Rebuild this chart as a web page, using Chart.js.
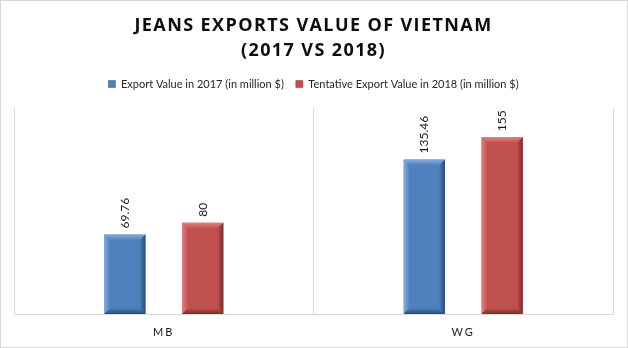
<!DOCTYPE html>
<html>
<head>
<meta charset="utf-8">
<script src="https://cdn.jsdelivr.net/npm/chart.js@4.4.1/dist/chart.umd.min.js"></script>
<style>
  html, body { margin: 0; padding: 0; background: #fff; }
  #wrap { width: 628px; height: 348px; position: relative; }
</style>
</head>
<body>
<div id="wrap"><canvas id="grafico"></canvas></div>
<script>
// ===== DADOS =====
const categorias = ['MB', 'WG'];
const exportacao2017 = [69.76, 135.46];
const exportacao2018 = [80, 155];
const rotulosSeries = ['Export Value in 2017 (in million $)', 'Tentative Export Value in 2018 (in million $)'];
const tituloLinhas = ['JEANS EXPORTS VALUE OF VIETNAM', '(2017 VS 2018)'];
const eixoY = { min: 0, max: 180 };

// cores: base, claro (bisel superior/esquerdo), escuro (bisel inferior/direito)
const CORES = [
  { base: '#4f81bd', claro: '#86abdb', escuro: '#2a4a72' },
  { base: '#c0504d', claro: '#da8582', escuro: '#7b2c2a' }
];

// envolve o desenho de um bloco para aplicar espaçamento entre letras
function comEspacamento(obj, metodo, espaco) {
  if (!obj || obj['_esp_' + metodo]) return;
  const original = obj[metodo];
  obj[metodo] = function (...args) {
    const ctx = this.ctx;
    ctx.save();
    ctx.letterSpacing = espaco;
    original.apply(this, args);
    ctx.restore();
  };
  obj['_esp_' + metodo] = true;
}

const pluginEspacamento = {
  id: 'espacamento',
  beforeLayout(chart) {
    // espaço extra abaixo da legenda (área do gráfico começa mais abaixo)
    const leg = chart.legend;
    if (leg && !leg._fitExtra) {
      const fitOriginal = leg.fit;
      leg.fit = function (...args) {
        fitOriginal.apply(this, args);
        this.height += 9;
      };
      leg._fitExtra = true;
    }
  },
  afterLayout(chart) {
    comEspacamento(chart.titleBlock, 'draw', '1.4px');
    comEspacamento(chart.scales.x, 'drawLabels', '2px');
  }
};

// bisel 3D das barras + rótulos de valor
const pluginBarras = {
  id: 'barras3d',
  afterDatasetsDraw(chart) {
    const ctx = chart.ctx;
    chart.data.datasets.forEach((ds, i) => {
      const meta = chart.getDatasetMeta(i);
      const cor = CORES[i];
      meta.data.forEach((el, j) => {
        const { x, y, base, width } = el.getProps(['x', 'y', 'base', 'width'], true);
        const l = x - width / 2, r = x + width / 2, t = y, b = base;
        const bv = Math.min(6, width / 4, (b - t) / 3);
        const faces = [
          { pts: [[l, t], [r, t], [r - bv, t + bv], [l + bv, t + bv]], g: [l, t, l, t + bv], c: cor.claro },
          { pts: [[l, t], [l + bv, t + bv], [l + bv, b - bv], [l, b]], g: [l, t, l + bv, t], c: cor.claro },
          { pts: [[r, t], [r, b], [r - bv, b - bv], [r - bv, t + bv]], g: [r, t, r - bv, t], c: cor.escuro },
          { pts: [[l, b], [r, b], [r - bv, b - bv], [l + bv, b - bv]], g: [l, b, l, b - bv], c: cor.escuro }
        ];
        faces.forEach(f => {
          const grad = ctx.createLinearGradient(...f.g);
          grad.addColorStop(0, f.c);
          grad.addColorStop(1, cor.base);
          ctx.beginPath();
          f.pts.forEach((p, k) => k ? ctx.lineTo(p[0], p[1]) : ctx.moveTo(p[0], p[1]));
          ctx.closePath();
          ctx.fillStyle = grad;
          ctx.fill();
        });
        // rótulo do valor, girado
        ctx.save();
        ctx.translate(x, t - 6);
        ctx.rotate(-Math.PI / 2);
        ctx.font = '12px Lato, "Open Sans", sans-serif';
        ctx.fillStyle = '#1a1a1a';
        ctx.textAlign = 'left';
        ctx.textBaseline = 'middle';
        ctx.fillText(String(ds.data[j]), 0, 0);
        ctx.restore();
      });
    });
  },
  afterDraw(chart) {
    const ctx = chart.ctx;
    ctx.save();
    ctx.strokeStyle = '#d9d9d9';
    ctx.lineWidth = 1;
    ctx.strokeRect(0.5, 0.5, chart.width - 1, chart.height - 1);
    ctx.restore();
  }
};

const ctx = document.getElementById('grafico').getContext('2d');
new Chart(ctx, {
  type: 'bar',
  data: {
    labels: categorias,
    datasets: [
      { label: rotulosSeries[0], data: exportacao2017, backgroundColor: CORES[0].base, borderWidth: 0 },
      { label: rotulosSeries[1], data: exportacao2018, backgroundColor: CORES[1].base, borderWidth: 0 }
    ]
  },
  options: {
    responsive: true,
    maintainAspectRatio: false,
    animation: false,
    categoryPercentage: 0.52,
    barPercentage: 0.53,
    layout: { padding: { left: 14, right: 15, top: 0, bottom: 0 } },
    plugins: {
      title: {
        display: true,
        text: tituloLinhas,
        color: '#0d0d0d',
        font: { family: '"Open Sans", sans-serif', size: 18, weight: 'bold', lineHeight: 1.35 },
        padding: { top: 14, bottom: 4 }
      },
      legend: {
        position: 'top',
        labels: {
          boxWidth: 7,
          boxHeight: 7,
          padding: 12,
          color: '#262626',
          font: { family: 'Lato, sans-serif', size: 11 },
          generateLabels(chart) {
            return chart.data.datasets.map((ds, i) => ({
              text: ds.label,
              fillStyle: CORES[i].base,
              strokeStyle: CORES[i].escuro,
              lineWidth: 0.5,
              datasetIndex: i,
              fontColor: '#262626'
            }));
          }
        }
      },
      tooltip: { enabled: false }
    },
    scales: {
      x: {
        grid: { display: true, offset: true, color: '#d9d9d9', drawTicks: false },
        border: { display: true, color: '#d9d9d9' },
        ticks: { color: '#1a1a1a', padding: 12, font: { family: 'Lato, sans-serif', size: 11 } },
        afterFit(scale) { scale.height = 34; }
      },
      y: {
        display: false,
        min: eixoY.min,
        max: eixoY.max
      }
    }
  },
  plugins: [pluginEspacamento, pluginBarras]
});
</script>
</body>
</html>
